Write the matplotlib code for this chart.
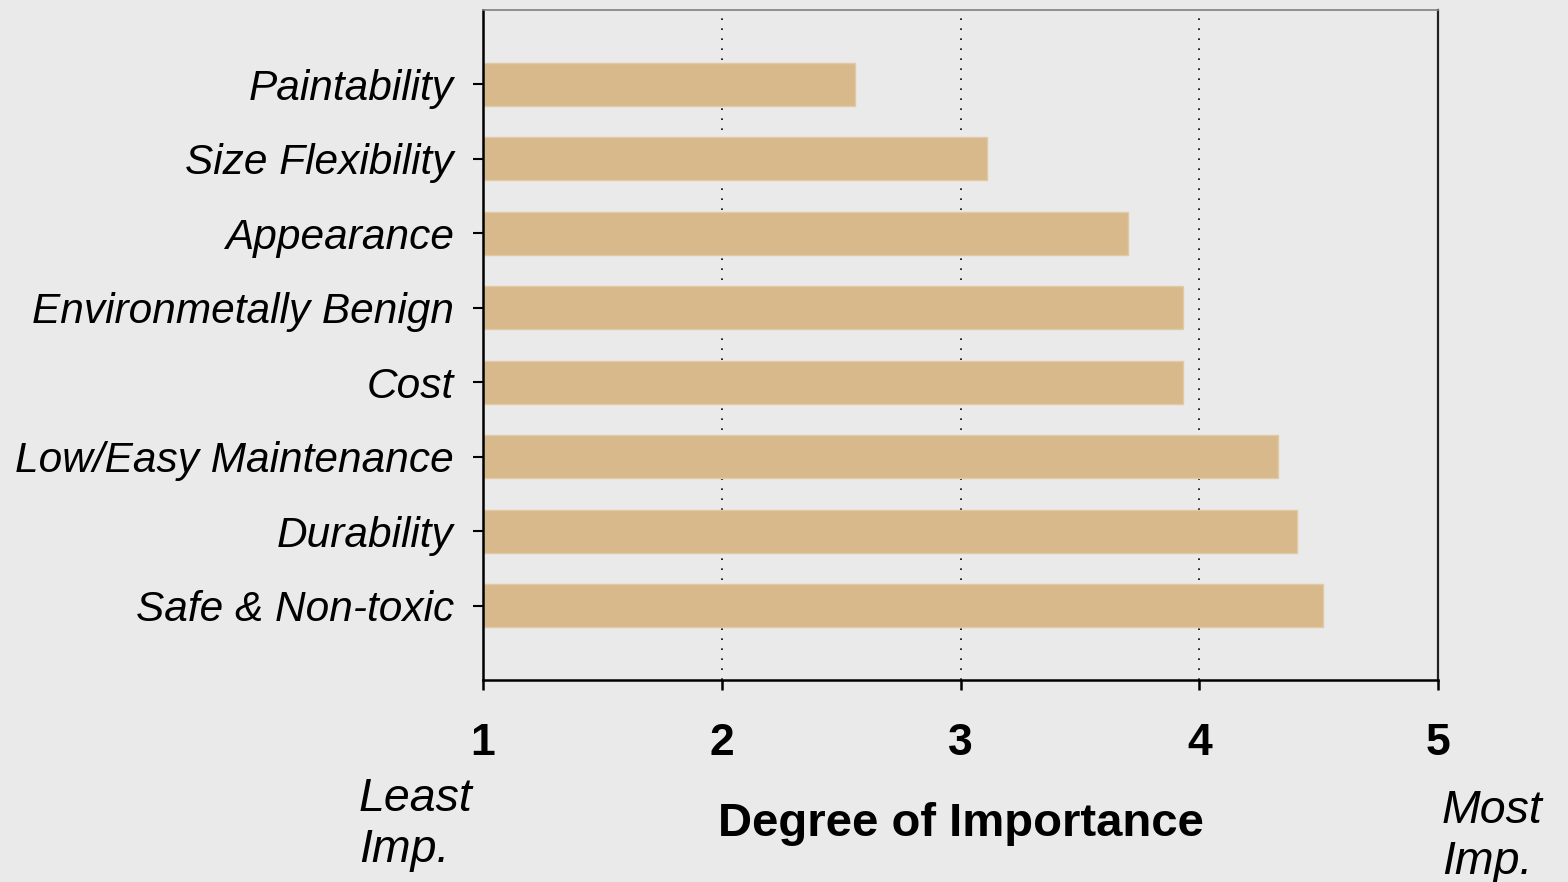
import matplotlib.pyplot as plt

plt.rcParams['font.family'] = ['Liberation Sans', 'DejaVu Sans']

categories = [
    "Paintability", "Size Flexibility", "Appearance",
    "Environmetally Benign", "Cost", "Low/Easy Maintenance",
    "Durability", "Safe & Non-toxic",
]
scores = [2.56, 3.11, 3.70, 3.93, 3.93, 4.33, 4.41, 4.52]
xticks = [1, 2, 3, 4, 5]

W, H = 1568, 882
fig = plt.figure(figsize=(W / 100, H / 100), dpi=100, facecolor="#eaeaea")
ax = fig.add_axes([483 / W, 1 - 680 / H, (1438 - 483) / W, (680 - 10) / H])
ax.set_facecolor("#eaeaea")

ypos = list(range(len(categories)))
ax.barh(ypos, [s - 1 for s in scores], left=1, height=0.58,
        color="#d8b98b", edgecolor="#e0c9a3", linewidth=1, zorder=2)

ax.set_xlim(1, 5)
ax.set_ylim(-1, len(categories))
ax.invert_yaxis()

ax.set_xticks(xticks)
ax.set_xticklabels([str(t) for t in xticks], fontsize=32, fontweight="bold")
ax.set_yticks(ypos)
ax.set_yticklabels(categories, fontsize=30.5, fontstyle="italic")
ax.tick_params(axis="x", direction="out", length=7, width=1.8, pad=24)
ax.tick_params(axis="y", direction="out", length=7, width=1.5, pad=14)

ax.grid(axis="x", color="black", linestyle=(0, (1, 5)), linewidth=1.2, zorder=1)
ax.set_axisbelow(True)

for side in ["left", "bottom"]:
    ax.spines[side].set_linewidth(1.8)
    ax.spines[side].set_color("black")
ax.spines["right"].set_linewidth(1.6)
ax.spines["right"].set_color("#222222")
ax.spines["top"].set_linewidth(1.2)
ax.spines["top"].set_color("#808080")

fig.text(961 / W, 1 - 836 / H, "Degree of Importance", fontsize=34,
         fontweight="bold", ha="center", va="baseline")
fig.text(359 / W, 1 - 777 / H, "Least\nImp.", fontsize=33.5, fontstyle="italic",
         ha="left", va="top", linespacing=1.2)
fig.text(1442 / W, 1 - 789 / H, "Most\nImp.", fontsize=33.5, fontstyle="italic",
         ha="left", va="top", linespacing=1.2)

fig.savefig("out.png", dpi=100, facecolor=fig.get_facecolor())
